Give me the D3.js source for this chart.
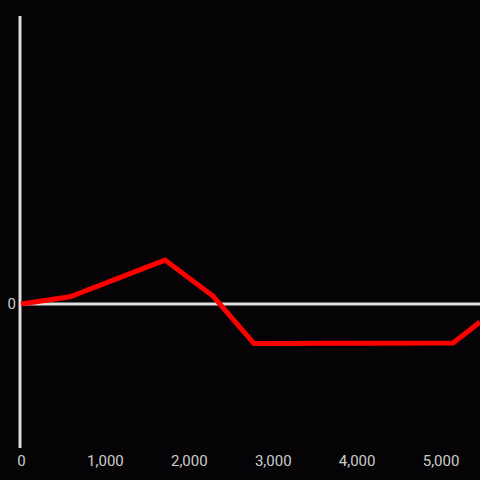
<!DOCTYPE html>
<html><head><meta charset="utf-8">
<script src="https://cdn.jsdelivr.net/npm/d3@7"></script>
<style>html,body{margin:0;padding:0;background:#050306;}</style>
</head><body>
<svg id="c" width="480" height="480"></svg>
<script>
const xValues = [0, 584, 1716, 2288, 2777, 5149, 5470];
const yValues = [0, 0.05, 0.305, 0.055, -0.275, -0.27, -0.125];
const xTicks = [0, 1000, 2000, 3000, 4000, 5000];
const yTicks = [0];

const svg = d3.select("#c");
svg.append("rect").attr("width",480).attr("height",480).attr("fill","#050306");
const x = d3.scaleLinear().domain([0, 5470]).range([21, 480]);
const y = d3.scaleLinear().domain([-1, 2]).range([448, 16]);

// x tick labels
const xa = svg.append("g").attr("transform","translate(0,461)")
  .call(d3.axisBottom(x).tickValues(xTicks).tickSize(0).tickPadding(0).tickFormat(d3.format(",")));
xa.select(".domain").remove();
xa.selectAll("text").attr("fill","#ccc").attr("font-family","Roboto, sans-serif")
  .attr("font-size",15).attr("dy","0.35em").attr("y",0);

// y tick labels
const ya = svg.append("g").attr("transform","translate(16,0)")
  .call(d3.axisLeft(y).tickValues(yTicks).tickSize(0).tickPadding(0).tickFormat(d3.format(",")));
ya.select(".domain").remove();
ya.selectAll("text").attr("fill","#ccc").attr("font-family","Roboto, sans-serif")
  .attr("font-size",15).attr("x",0);

// axes lines
svg.append("line").attr("x1",20).attr("x2",20).attr("y1",16).attr("y2",448)
  .attr("stroke","#ddd").attr("stroke-width",3);
svg.append("line").attr("x1",20).attr("x2",480).attr("y1",y(0)).attr("y2",y(0))
  .attr("stroke","#ddd").attr("stroke-width",3);

const data = xValues.map((v,i)=>[v,yValues[i]]);
svg.append("path").datum(data)
  .attr("d", d3.line().x(d=>x(d[0])).y(d=>y(d[1])))
  .attr("fill","none").attr("stroke","#ff0000").attr("stroke-width",5)
  .attr("stroke-linejoin","miter");
</script>
</body></html>
